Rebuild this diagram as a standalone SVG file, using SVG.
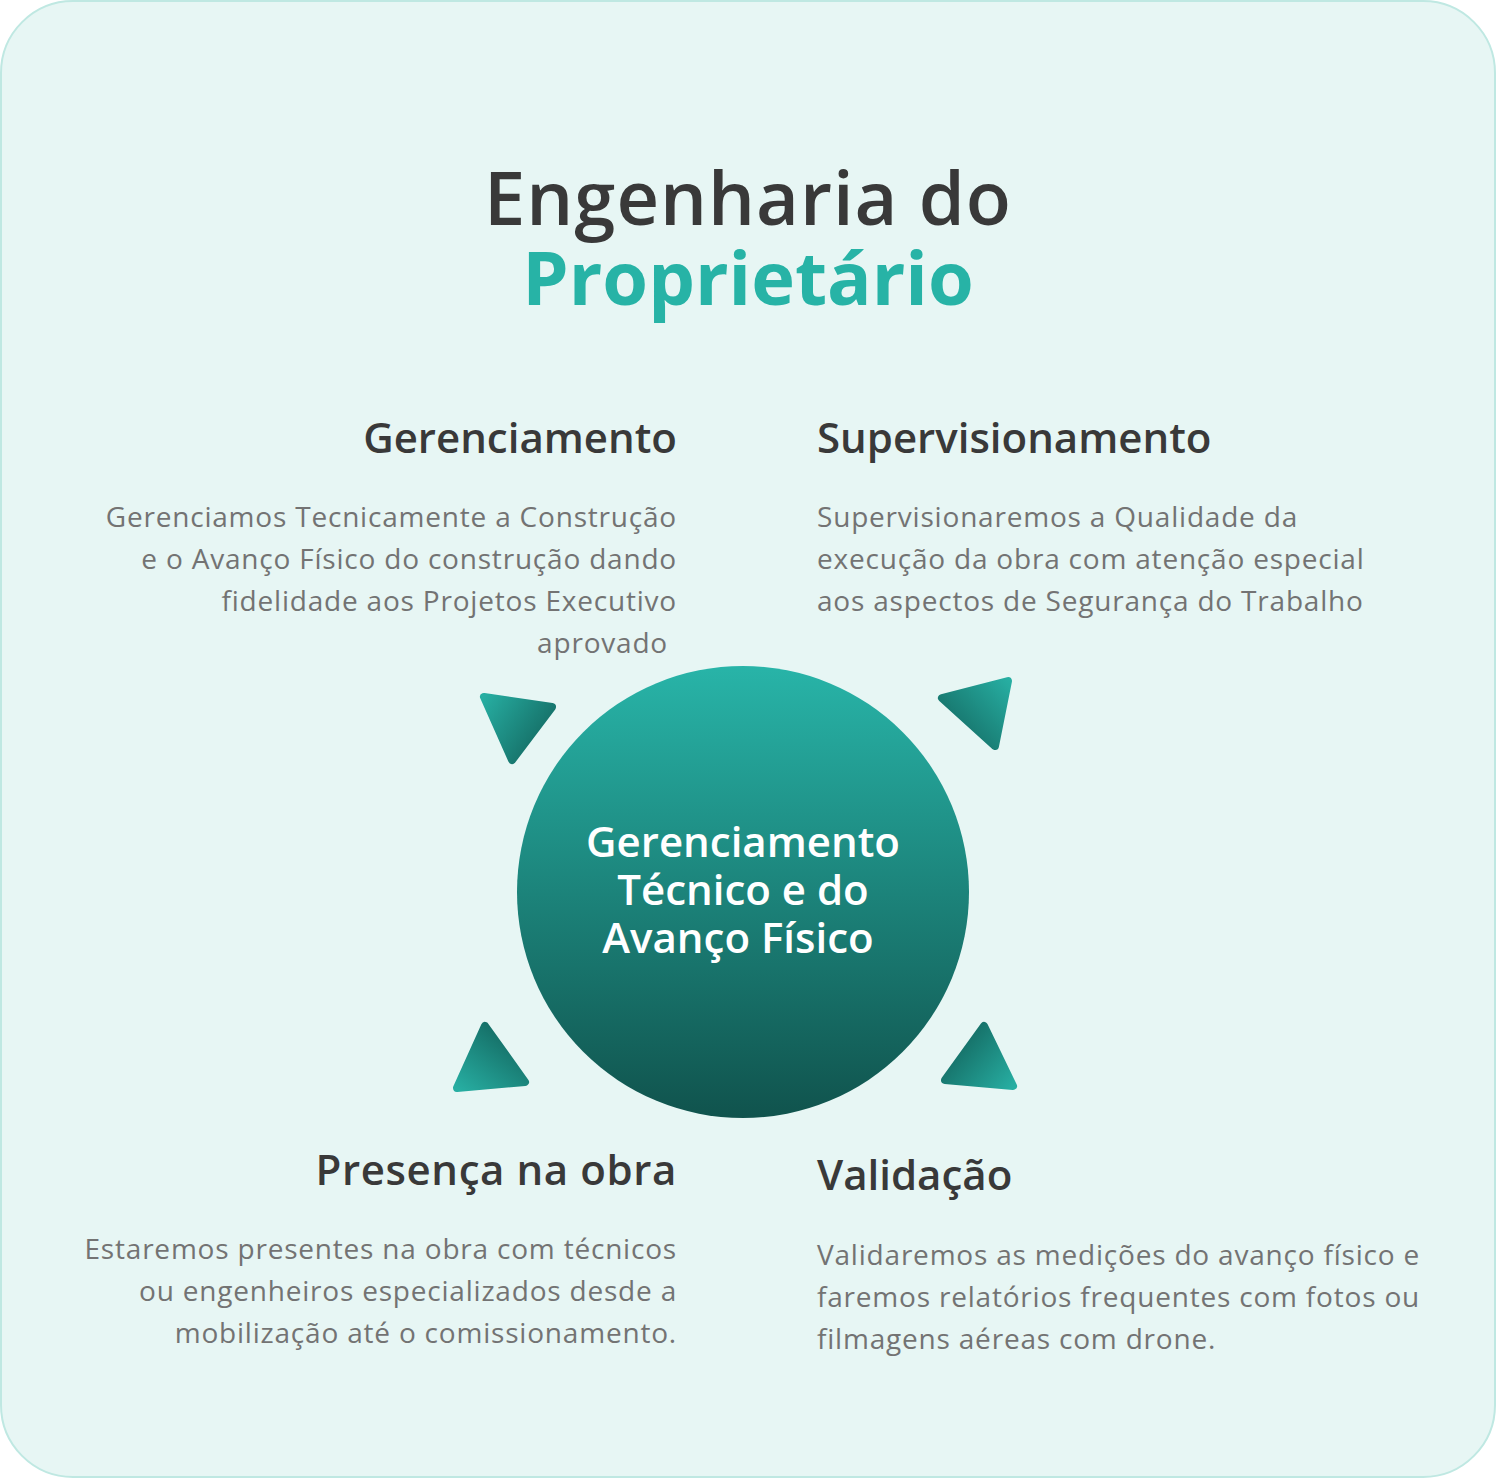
<svg xmlns="http://www.w3.org/2000/svg" width="1496" height="1478" viewBox="0 0 1496 1478">
<defs>
<style>
.bg{fill:#e7f6f4;stroke:#bfe8e2;stroke-width:2}
.title{font-family:"Open Sans","Noto Sans",sans-serif;font-size:74px;text-anchor:middle}
.h{font-family:"Open Sans","Noto Sans",sans-serif;font-size:42px;font-weight:600;fill:#393939}
.p{font-family:"Open Sans","Noto Sans",sans-serif;font-size:28px;font-weight:500;fill:#737373;letter-spacing:0.8px}
.c{font-family:"Open Sans","Noto Sans",sans-serif;font-size:42px;font-weight:600;fill:#ffffff;text-anchor:middle}
.end{text-anchor:end}
.tri{stroke-width:8;stroke-linejoin:round}
</style>
<linearGradient id="gc" x1="0" y1="0" x2="0" y2="1">
<stop offset="0" stop-color="#28b4a8"/>
<stop offset="1" stop-color="#10534d"/>
</linearGradient>
<linearGradient id="gtl" gradientUnits="userSpaceOnUse" x1="483" y1="697" x2="545" y2="740">
<stop offset="0" stop-color="#27aea2"/>
<stop offset="1" stop-color="#156e66"/>
</linearGradient>
<linearGradient id="gtr" gradientUnits="userSpaceOnUse" x1="1009" y1="680" x2="950" y2="735">
<stop offset="0" stop-color="#27aea2"/>
<stop offset="1" stop-color="#156e66"/>
</linearGradient>
<linearGradient id="gbl" gradientUnits="userSpaceOnUse" x1="456" y1="1088" x2="500" y2="1030">
<stop offset="0" stop-color="#27aea2"/>
<stop offset="1" stop-color="#156e66"/>
</linearGradient>
<linearGradient id="gbr" gradientUnits="userSpaceOnUse" x1="1014" y1="1086" x2="960" y2="1040">
<stop offset="0" stop-color="#27aea2"/>
<stop offset="1" stop-color="#156e66"/>
</linearGradient>
</defs>
<rect class="bg" x="1" y="1" width="1494" height="1476" rx="72" ry="72"/>
<g id="title">
<text class="title" x="748" y="225" font-weight="600" fill="#393939" letter-spacing="1">Engenharia do</text>
<text class="title" x="748" y="305" font-weight="700" fill="#27b3a6">Proprietário</text>
</g>
<g id="connectors">
<polygon class="tri" fill="url(#gtl)" stroke="url(#gtl)" points="484,697 552,707 512,760"/>
<polygon class="tri" fill="url(#gtr)" stroke="url(#gtr)" points="942,698 1008,681 995,746"/>
<polygon class="tri" fill="url(#gbl)" stroke="url(#gbl)" points="485,1026 525,1082 457,1088"/>
<polygon class="tri" fill="url(#gbr)" stroke="url(#gbr)" points="984,1026 1013,1086 945,1080"/>
</g>
<g id="center">
<circle cx="743" cy="892" r="226" fill="url(#gc)"/>
<text class="c" x="743" y="857">Gerenciamento</text>
<text class="c" x="743" y="905">Técnico e do</text>
<text class="c" x="738" y="953">Avanço Físico</text>
</g>
<g id="gerenciamento">
<text class="h end" x="677" y="453">Gerenciamento</text>
<text class="p end" x="677" y="527">Gerenciamos Tecnicamente a Construção</text>
<text class="p end" x="677" y="569">e o Avanço Físico do construção dando</text>
<text class="p end" x="677" y="611">fidelidade aos Projetos Executivo</text>
<text class="p end" x="668" y="653">aprovado</text>
</g>
<g id="supervisionamento">
<text class="h" x="817" y="453">Supervisionamento</text>
<text class="p" x="817" y="527">Supervisionaremos a Qualidade da</text>
<text class="p" x="817" y="569">execução da obra com atenção especial</text>
<text class="p" x="817" y="611">aos aspectos de Segurança do Trabalho</text>
</g>
<g id="presenca">
<text class="h end" x="677" y="1185" letter-spacing="0.6">Presença na obra</text>
<text class="p end" x="677" y="1259">Estaremos presentes na obra com técnicos</text>
<text class="p end" x="677" y="1301">ou engenheiros especializados desde a</text>
<text class="p end" x="677" y="1343">mobilização até o comissionamento.</text>
</g>
<g id="validacao">
<text class="h" x="817" y="1190">Validação</text>
<text class="p" x="817" y="1265">Validaremos as medições do avanço físico e</text>
<text class="p" x="817" y="1307">faremos relatórios frequentes com fotos ou</text>
<text class="p" x="817" y="1349">filmagens aéreas com drone.</text>
</g>
</svg>
